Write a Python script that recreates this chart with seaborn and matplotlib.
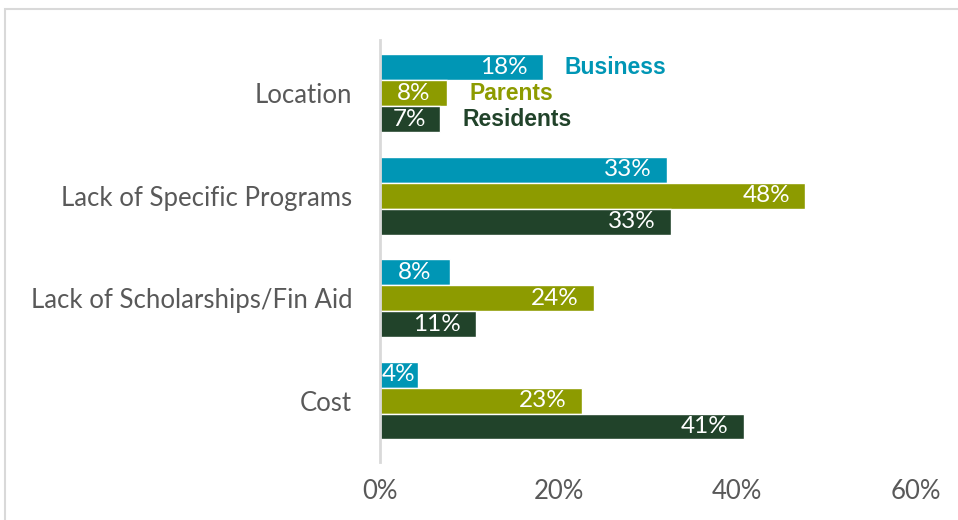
import matplotlib
matplotlib.use("Agg")
import matplotlib.pyplot as plt
import seaborn as sns
import pandas as pd
from matplotlib.patches import Rectangle
from matplotlib.ticker import FuncFormatter

categories = ["Location", "Lack of Specific Programs", "Lack of Scholarships/Fin Aid", "Cost"]
series = ["Business", "Parents", "Residents"]
# bar lengths (percent)
business = [18.2, 32.1, 7.8, 4.2]
parents = [7.5, 47.6, 23.9, 22.6]
residents = [6.7, 32.6, 10.8, 40.7]
# printed data labels
business_labels = ["18%", "33%", "8%", "4%"]
parents_labels = ["8%", "48%", "24%", "23%"]
residents_labels = ["7%", "33%", "11%", "41%"]
colors = ["#0096B5", "#8D9B00", "#21432A"]
x_ticks = [0, 20, 40, 60]

rows = []
for s, vals in zip(series, [business, parents, residents]):
    for c, v in zip(categories, vals):
        rows.append({"Category": c, "Series": s, "Value": v})
df = pd.DataFrame(rows)

sns.set_theme(style="white")
plt.rcParams['font.family'] = ['Lato', 'DejaVu Sans']

fig = plt.figure(figsize=(9.58, 5.2), dpi=100)
ax = fig.add_axes([380/958, 1-462/520, (916-380)/958, (462-40)/520])

sns.barplot(data=df, y="Category", x="Value", hue="Series", order=categories,
            hue_order=series, palette=colors, saturation=1, orient="h", width=0.76,
            edgecolor="white", linewidth=1.0, ax=ax, legend=False)

ax.set_xlim(0, 60)
ax.set_ylim(3.6, -0.52)
ax.set_xticks(x_ticks)
ax.xaxis.set_major_formatter(FuncFormatter(lambda v, p: f"{int(v)}%"))
ax.set_xlabel("")
ax.set_ylabel("")
ax.tick_params(axis="x", length=0, pad=12, labelsize=18.5, labelcolor="#595959")
ax.tick_params(axis="y", length=0, pad=20, labelsize=18.5, labelcolor="#595959")
for sp in ["top", "right", "bottom"]:
    ax.spines[sp].set_visible(False)
ax.spines["left"].set_color("#D9D9D9")
ax.spines["left"].set_linewidth(2)
ax.grid(False)

# data labels
for cont, labels in zip(ax.containers, [business_labels, parents_labels, residents_labels]):
    for bar, lab in zip(cont, labels):
        v = bar.get_width()
        yc = bar.get_y() + bar.get_height() / 2
        if v < 10:
            ax.text(v / 2, yc, lab, ha="center", va="center",
                    color="white", fontsize=17.5)
        else:
            ax.annotate(lab, (v, yc), xytext=(-11, 0),
                        textcoords="offset points", ha="right", va="center",
                        color="white", fontsize=17.5)

# series labels next to the first category
for cont, s, col in zip(ax.containers, series, colors):
    bar = cont[0]
    v = bar.get_width()
    yc = bar.get_y() + bar.get_height() / 2
    ax.annotate(s, (v, yc), xytext=(16, 0), textcoords="offset points",
                ha="left", va="center", color=col, fontsize=16.5,
                fontweight="bold", family=["Liberation Sans", "DejaVu Sans"])

# outer frame
fig.add_artist(Rectangle((5/958, -0.2), 1.2, 1.2 - 9/520, transform=fig.transFigure,
                         fill=False, edgecolor="#D9D9D9", linewidth=1.5, clip_on=False))

fig.savefig("out.png", dpi=100)
